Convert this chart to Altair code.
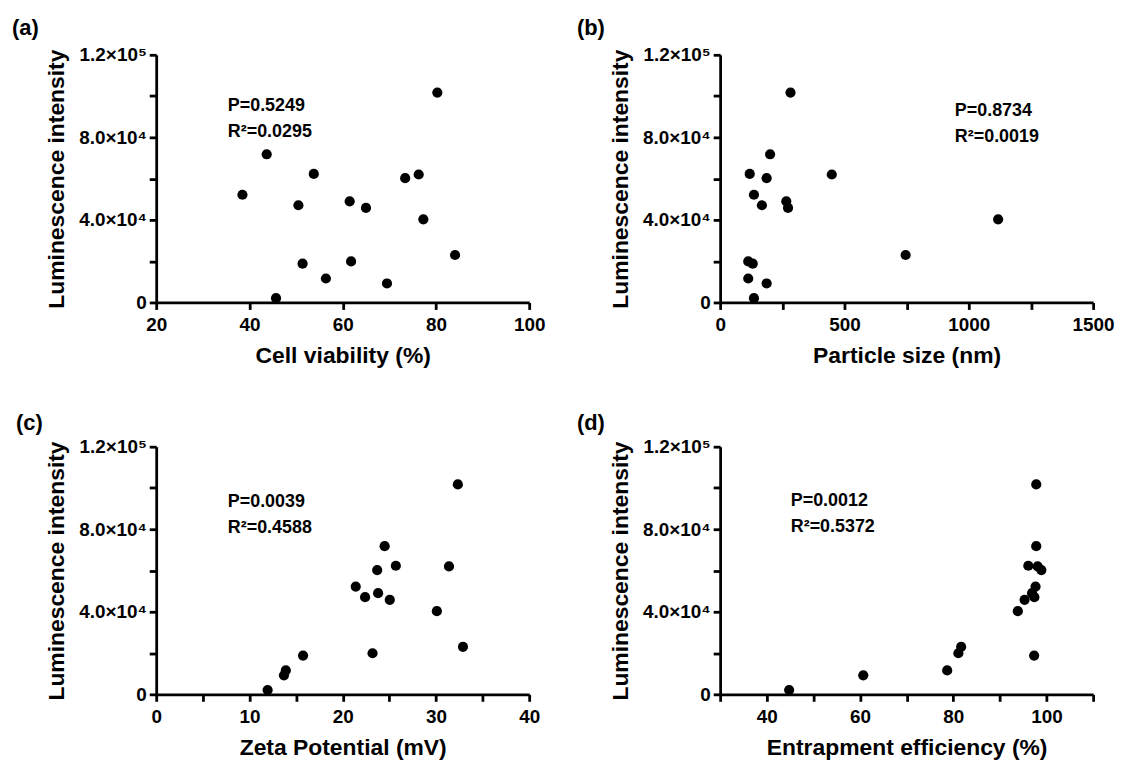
import altair as alt
import pandas as pd

# ---- data ----
luminescence = [101700, 71800, 62300, 62000, 60200, 52200, 47100, 49000,
                45800, 40300, 23000, 18800, 19900, 11600, 9200, 2100]
cell_viability = [80.3, 43.7, 53.8, 76.3, 73.4, 38.5, 50.5, 61.5,
                  65.0, 77.3, 84.1, 51.4, 61.8, 56.4, 69.5, 45.7]
particle_size = [283, 201, 119, 449, 187, 136, 168, 266,
                 273, 1118, 746, 131, 113, 113, 187, 136]
zeta_potential = [32.35, 24.5, 25.7, 31.4, 23.7, 21.4, 22.4, 23.8,
                  25.05, 30.1, 32.9, 15.75, 23.2, 13.9, 13.7, 11.95]
entrapment = [97.8, 97.8, 96.1, 98.1, 98.9, 97.65, 97.4, 96.9,
              95.3, 93.85, 81.7, 97.35, 81.1, 78.7, 60.7, 44.8]

y_ticks = [0, 20000, 40000, 60000, 80000, 100000, 120000]
y_tick_labels = {0: "0", 40000: "4.0×10⁴", 80000: "8.0×10⁴", 120000: "1.2×10⁵"}

panel_tags = ["(a)", "(b)", "(c)", "(d)"]
x_titles = ["Cell viability (%)", "Particle size (nm)",
            "Zeta Potential (mV)", "Entrapment efficiency (%)"]
x_domains = [[20, 100], [0, 1500], [0, 40], [30, 110]]
x_ticks = [[20, 40, 60, 80, 100],
           [0, 250, 500, 750, 1000, 1250, 1500],
           [0, 5, 10, 15, 20, 25, 30, 35, 40],
           [30, 40, 50, 60, 70, 80, 90, 100, 110]]
x_label_every = [20, 500, 10, 20]
p_values = ["P=0.5249", "P=0.8734", "P=0.0039", "P=0.0012"]
r2_values = ["R²=0.0295", "R²=0.0019", "R²=0.4588", "R²=0.5372"]

FONT = "Liberation Sans"
W, H = 375, 249
ann_pos = [(72, 57), (236, 62), (72, 61), (71, 60)]
tag_pos = [(-145, -19.5), (-144, -19.5), (-141, -17), (-144, -17)]

y_expr = " : ".join(
    f"datum.value == {v} ? '{t}'" for v, t in y_tick_labels.items()
) + " : ''"


def make_panel(i, xs):
    df = pd.DataFrame({"x": xs, "y": luminescence})
    pts = alt.Chart(df).mark_circle(size=105, color="black", opacity=1).encode(
        x=alt.X(
            "x:Q",
            scale=alt.Scale(domain=x_domains[i], nice=False, zero=False),
            axis=alt.Axis(
                values=x_ticks[i], format="d",
                labelExpr=f"datum.value % {x_label_every[i]} == 0 ? datum.label : ''",
                title=x_titles[i], titleX=W / 2, titleY=60.5,
                titleBaseline="alphabetic", titleAlign="center",
                labelFlush=False, labelOverlap=False, labelPadding=6,
            ),
        ),
        y=alt.Y(
            "y:Q",
            scale=alt.Scale(domain=[0, 120000], nice=False),
            axis=alt.Axis(
                values=y_ticks, labelExpr=y_expr,
                title="Luminescence intensity", titleX=-93, titleY=H / 2,
                titleAngle=270, titleBaseline="alphabetic", titleAlign="center",
                labelFlush=False, labelOverlap=False, labelPadding=3,
            ),
        ),
    )
    one = pd.DataFrame({"k": [0]})
    ann = alt.Chart(one).mark_text(
        font=FONT, fontSize=18, fontWeight="bold", color="black",
        align="left", baseline="alphabetic", lineHeight=26,
    ).encode(
        x=alt.value(ann_pos[i][0]), y=alt.value(ann_pos[i][1]),
        text=alt.value([p_values[i], r2_values[i]]),
    )
    tag = alt.Chart(one).mark_text(
        font=FONT, fontSize=22, fontWeight="bold", color="black",
        align="left", baseline="alphabetic",
    ).encode(
        x=alt.value(tag_pos[i][0]), y=alt.value(tag_pos[i][1]),
        text=alt.value(panel_tags[i]),
    )
    return alt.layer(pts, ann, tag).properties(width=W, height=H)


panels = [make_panel(i, xs) for i, xs in
          enumerate([cell_viability, particle_size, zeta_potential, entrapment])]

chart = alt.concat(
    *panels, columns=2, bounds="flush",
    spacing={"row": 145, "column": 192},
).properties(
    padding={"left": 4, "top": 7, "right": 0, "bottom": 5},
    background="white",
).configure_view(
    stroke=None
).configure_axis(
    grid=False,
    domainColor="black", domainWidth=2.8,
    tickColor="black", tickWidth=2.8, tickSize=7,
    labelFont=FONT, labelFontWeight="bold", labelFontSize=19, labelColor="black",
    titleFont=FONT, titleFontWeight="bold", titleFontSize=23, titleColor="black",
)

chart.save("out.html", embed_options={"renderer": "svg", "actions": False})
